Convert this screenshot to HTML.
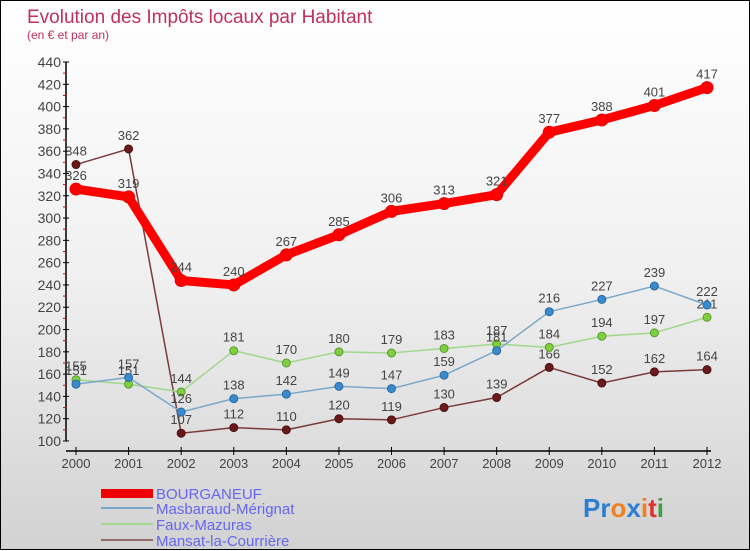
<!DOCTYPE html>
<html><head><meta charset="utf-8"><style>
body{margin:0;width:750px;height:550px;overflow:hidden;font-family:"Liberation Sans",sans-serif}
#wrap{position:relative;width:748px;height:548px;border:1px solid #000;background:linear-gradient(#fff 0%,#f0f0f0 50%,#d2d2d2 100%)}
svg{position:absolute;left:0;top:0}
</style></head><body>
<div id="wrap">
<svg id="chart" width="750" height="550">
<text x="26" y="22" font-size="19" fill="#c0305a">Evolution des Impôts locaux par Habitant</text>
<text x="26" y="38" font-size="12" fill="#c0305a">(en € et par an)</text>
<g id="axes"></g><g id="series"></g>
<g>
<rect x="100" y="488" width="52" height="9" fill="#e00"/>
<text x="155" y="498" font-size="15" fill="#6666ee">BOURGANEUF</text>
<rect x="100" y="506" width="52" height="2" fill="#79a8c9"/>
<text x="155" y="513" font-size="15" fill="#6666ee">Masbaraud-Mérignat</text>
<rect x="100" y="522" width="52" height="2" fill="#9fd88a"/>
<text x="155" y="529" font-size="15" fill="#6666ee">Faux-Mazuras</text>
<rect x="100" y="538" width="52" height="2" fill="#8f6a6a"/>
<text x="155" y="545" font-size="15" fill="#6666ee">Mansat-la-Courrière</text>
</g>
<text x="582" y="516" font-size="26" font-weight="bold"><tspan fill="#2a7fd0">Pr</tspan><tspan fill="#f08020">o</tspan><tspan fill="#2a7fd0">x</tspan><tspan fill="#f08020">i</tspan><tspan fill="#e03030">t</tspan><tspan fill="#40a040">i</tspan></text>
</svg></div>
<script>
const years=[2000,2001,2002,2003,2004,2005,2006,2007,2008,2009,2010,2011,2012];
const yTicks=[100,120,140,160,180,200,220,240,260,280,300,320,340,360,380,400,420,440];
const bourganeuf=[326,319,244,240,267,285,306,313,321,377,388,401,417];
const masbaraud=[151,157,126,138,142,149,147,159,181,216,227,239,222];
const faux=[155,151,144,181,170,180,179,183,187,184,194,197,211];
const mansat=[348,362,107,112,110,120,119,130,139,166,152,162,164];
const NS="http://www.w3.org/2000/svg";
const xS=i=>75+i*(706-75)/(years.length-1);
const yS=v=>440-(v-100)*(440-61)/340;
function mk(t,a,p){const e=document.createElementNS(NS,t);for(const k in a)e.setAttribute(k,a[k]);p.appendChild(e);return e;}
const ax=document.getElementById('axes');
let yl=mk('line',{x1:65,y1:61,x2:65,y2:440,stroke:'#000','stroke-width':1.5},ax);


let xl=mk('line',{x1:65,y1:450,x2:710,y2:450,stroke:'#000','stroke-width':1.5},ax);


yTicks.forEach(v=>{const y=yS(v);
mk('line',{x1:62,y1:y,x2:68,y2:y,stroke:'#000'},ax);
if(v<440)mk('line',{x1:62,y1:y-11.15,x2:65,y2:y-11.15,stroke:'#e00'},ax);
const t=mk('text',{x:60,y:y+5,'text-anchor':'end','font-size':14,fill:'#444'},ax);t.textContent=v;

});
years.forEach((yr,i)=>{const x=xS(i);
mk('line',{x1:x,y1:446,x2:x,y2:454,stroke:'#000'},ax);
const t=mk('text',{x:x,y:467,'text-anchor':'middle','font-size':13,fill:'#444'},ax);t.textContent=yr;

});
const sg=document.getElementById('series');
function draw(data,name,col,w,r,fill,stroke){
const g=mk('g',{},sg);


mk('polyline',{points:data.map((v,i)=>xS(i)+','+yS(v)).join(' '),fill:'none',stroke:col,'stroke-width':w,'stroke-linejoin':'round'},g);
data.forEach((v,i)=>{const c=mk('circle',{cx:xS(i),cy:yS(v),r:r,fill:fill,stroke:stroke,'stroke-width':1},g);


const t=mk('text',{x:xS(i),y:yS(v)-9,'text-anchor':'middle','font-size':13,fill:'#444'},g);t.textContent=v;

});}
draw(mansat,'mansat','#7a3a3a',1.5,4,'#6a1a1a','#4a1010');
draw(faux,'faux','#9fd88a',1.5,4,'#7fd040','#5a9a30');
draw(masbaraud,'masbaraud','#79a8c9',1.5,4,'#3a8ad0','#2a6aa0');
draw(bourganeuf,'bourganeuf','#f00',9,6,'#f00','#e00');
</script></body></html>
